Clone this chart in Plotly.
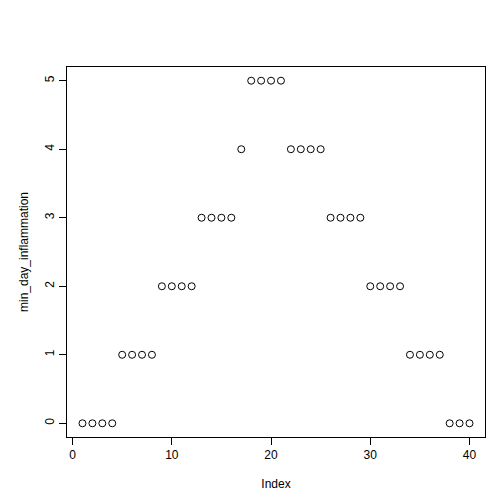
import plotly.graph_objects as go

index = list(range(1, 41))
min_day_inflammation = [0,0,0,0, 1,1,1,1, 2,2,2,2, 3,3,3,3, 4, 5,5,5,5,
                        4,4,4,4, 3,3,3,3, 2,2,2,2, 1,1,1,1, 0,0,0]
x_ticks = [0, 10, 20, 30, 40]
y_ticks = [0, 1, 2, 3, 4, 5]

fig = go.Figure(go.Scatter(
    x=index, y=min_day_inflammation, mode="markers",
    marker=dict(symbol="circle-open", size=7, color="black", line=dict(width=1))))

ax = dict(showgrid=False, zeroline=False, showline=True, mirror=True, linecolor="black",
          linewidth=1, ticks="outside", ticklen=7, tickcolor="black", automargin=False,
          tickfont=dict(family="Liberation Sans, Arial", size=12, color="black"),
          title_font=dict(family="Liberation Sans, Arial", size=12, color="black"))
fig.update_layout(
    width=504, height=504, plot_bgcolor="white", paper_bgcolor="white",
    margin=dict(l=59, r=27, t=59, b=75), showlegend=False,
    xaxis=dict(ax, range=[-0.56, 41.56], tickvals=x_ticks, title=dict(text="Index", standoff=18)),
    yaxis=dict(ax, range=[-0.2, 5.2], tickvals=y_ticks, tickangle=-90,
               title=dict(text="min_day_inflammation", standoff=12)),
)
fig.write_html("out.html")
